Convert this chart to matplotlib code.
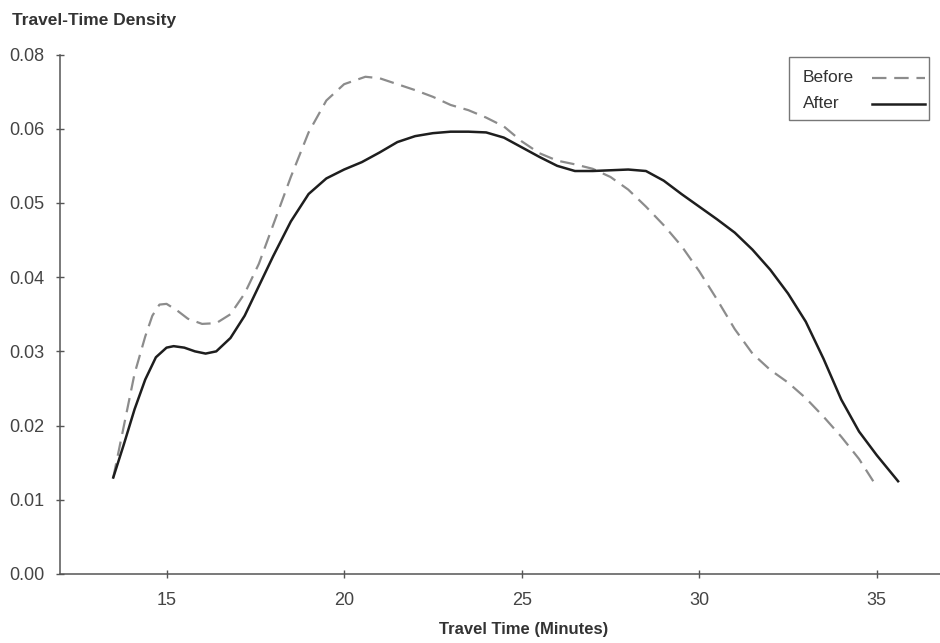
import matplotlib.pyplot as plt
from matplotlib.patches import Rectangle
from matplotlib.lines import Line2D

plt.rcParams['font.family'] = ['Liberation Sans', 'DejaVu Sans']

# travel time (minutes) and density
before_x = [13.5, 13.8, 14.1, 14.4, 14.6, 14.8, 15.0, 15.3, 15.6, 16.0, 16.4, 16.8, 17.2,
            17.6, 18.0, 18.5, 19.0, 19.5, 20.0, 20.6, 21.0, 21.5, 22.0, 22.5, 23.0, 23.5,
            24.0, 24.5, 25.0, 25.5, 26.0, 26.5, 27.0, 27.5, 28.0, 28.5, 29.0, 29.5, 30.0,
            30.5, 31.0, 31.5, 32.0, 32.5, 33.0, 33.5, 34.0, 34.5, 34.9]
before_y = [0.013, 0.020, 0.027, 0.032, 0.0348, 0.0363, 0.0364, 0.0355, 0.0344, 0.0337, 0.0338,
            0.0350, 0.0378, 0.0418, 0.0470, 0.0535, 0.0595, 0.0638, 0.0660, 0.0670, 0.0668,
            0.0660, 0.0652, 0.0643, 0.0632, 0.0625, 0.0615, 0.0603, 0.0583, 0.0567, 0.0557,
            0.0552, 0.0546, 0.0535, 0.0518, 0.0495, 0.0470, 0.0442, 0.0408, 0.0370, 0.0330,
            0.0297, 0.0275, 0.0258, 0.0237, 0.0212, 0.0185, 0.0155, 0.0125]

after_x = [13.5, 13.8, 14.1, 14.4, 14.7, 15.0, 15.2, 15.5, 15.8, 16.1, 16.4, 16.8, 17.2,
           17.6, 18.0, 18.5, 19.0, 19.5, 20.0, 20.5, 21.0, 21.5, 22.0, 22.5, 23.0, 23.5,
           24.0, 24.5, 25.0, 25.5, 26.0, 26.5, 27.0, 27.5, 28.0, 28.5, 29.0, 29.5, 30.0,
           30.5, 31.0, 31.5, 32.0, 32.5, 33.0, 33.5, 34.0, 34.5, 35.0, 35.6]
after_y = [0.013, 0.0175, 0.0222, 0.0262, 0.0292, 0.0305, 0.0307, 0.0305, 0.0300, 0.0297,
           0.0300, 0.0318, 0.0348, 0.0388, 0.0428, 0.0475, 0.0512, 0.0533, 0.0545, 0.0555,
           0.0568, 0.0582, 0.0590, 0.0594, 0.0596, 0.0596, 0.0595, 0.0588, 0.0575, 0.0562,
           0.0550, 0.0543, 0.0543, 0.0544, 0.0545, 0.0543, 0.0530, 0.0512, 0.0495, 0.0478,
           0.0460, 0.0437, 0.0410, 0.0378, 0.0340, 0.0290, 0.0235, 0.0192, 0.0160, 0.0125]

y_ticks = [0.00, 0.01, 0.02, 0.03, 0.04, 0.05, 0.06, 0.07]
y_tick_labels = ['0.00', '0.01', '0.02', '0.03', '0.04', '0.05', '0.06', '0.08']
x_ticks = [15, 20, 25, 30, 35]

W, H = 940, 643
fig = plt.figure(figsize=(W / 100, H / 100), dpi=100)
ax = fig.add_axes([60 / W, 69 / H, 1 - 60 / W, (574 - 54.5) / H])

before_style = dict(color='#8c8c8c', lw=1.6, ls=(0, (6.5, 3.5)))
after_style = dict(color='#1e1e1e', lw=1.8)
ax.plot(before_x, before_y, **before_style)
ax.plot(after_x, after_y, **after_style)

ax.set_xlim(12, 36.78)
ax.set_ylim(0, 0.07)
ax.set_xticks(x_ticks)
ax.set_yticks(y_ticks)
ax.set_yticklabels(y_tick_labels)

for side in ['top', 'right']:
    ax.spines[side].set_visible(False)
for side in ['left', 'bottom']:
    ax.spines[side].set_color('#555555')
    ax.spines[side].set_linewidth(1.1)
ax.tick_params(direction='inout', length=6, width=1, color='#555555',
               labelsize=13, labelcolor='#444444')
ax.tick_params(axis='x', pad=10)
ax.tick_params(axis='y', pad=8)

fig.text(12 / W, 1 - 25 / H, 'Travel-Time Density', fontsize=12.5, fontweight='bold',
         color='#333333', va='baseline', ha='left')
fig.text(524 / W, 1 - 634 / H, 'Travel Time (Minutes)', fontsize=12, fontweight='bold',
         color='#333333', va='baseline', ha='center')

# legend: labels left, line samples right
fig.add_artist(Rectangle((789 / W, 1 - 120 / H), 140 / W, 63 / H, transform=fig.transFigure,
                         facecolor='white', edgecolor='#777777', lw=1.0))
for label, style, y in [('Before', before_style, 78), ('After', after_style, 104)]:
    fig.text(803 / W, 1 - y / H, label, fontsize=12.5, color='#333333', va='center', ha='left')
    fig.add_artist(Line2D([872 / W, 925 / W], [1 - y / H, 1 - y / H],
                          transform=fig.transFigure, **style))

fig.savefig('out.png', dpi=100)
